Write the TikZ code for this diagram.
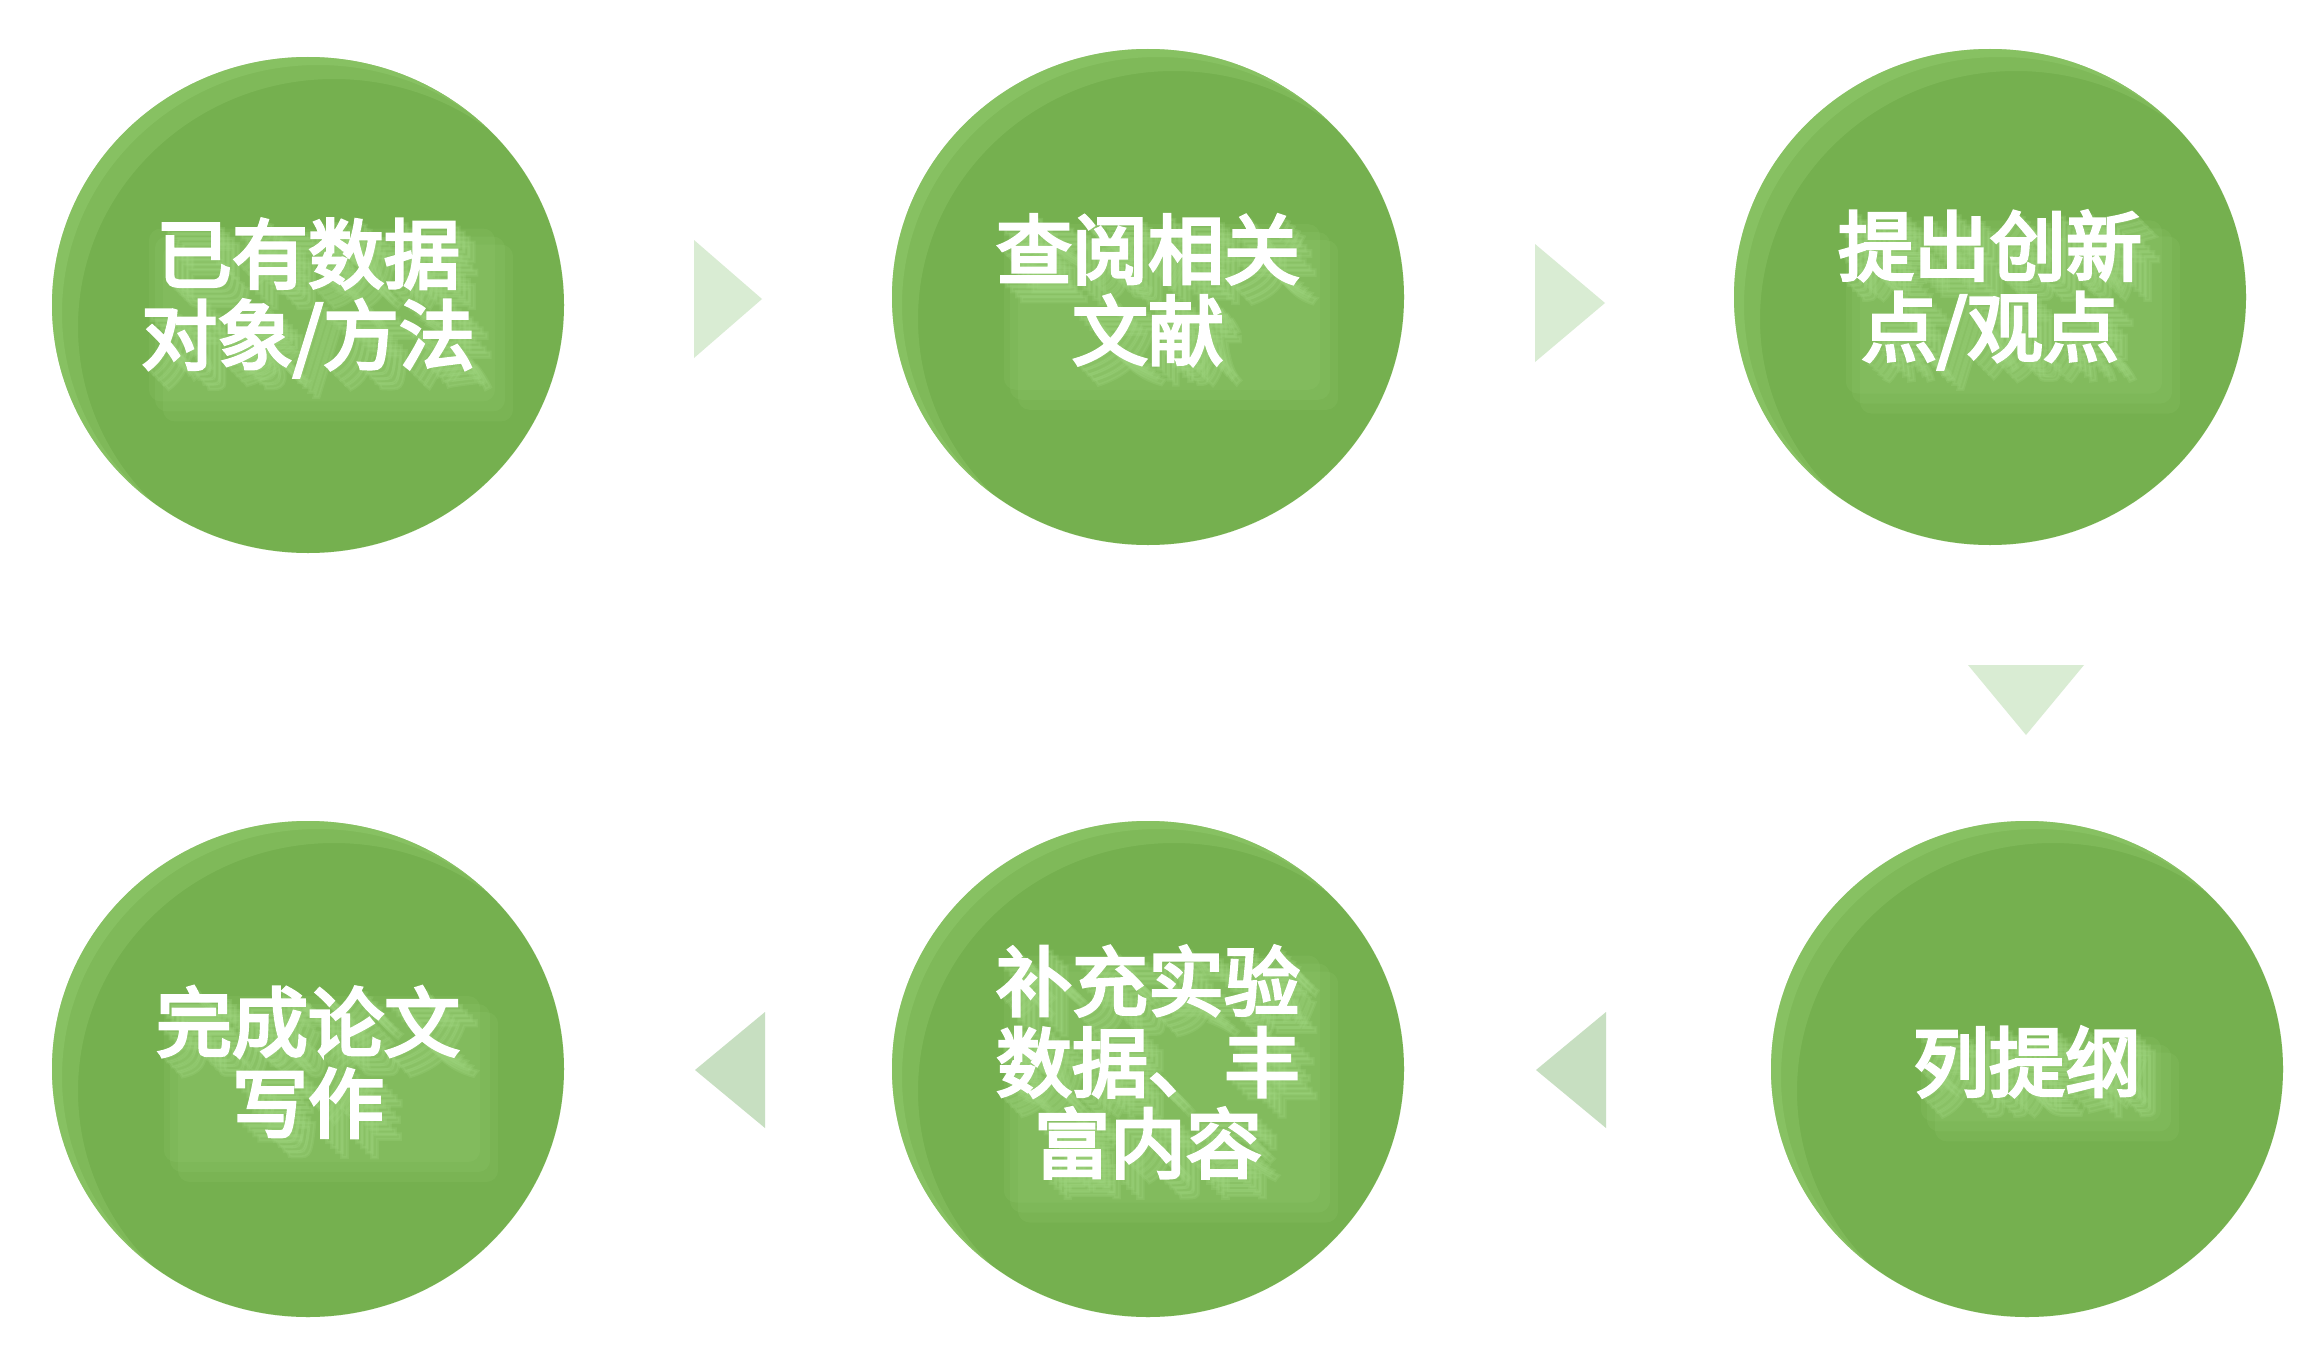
\documentclass[tikz,border=0pt]{standalone}
\usepackage{fontspec}
\newfontfamily\cjk{Noto Sans CJK SC}[FakeBold=4]
\usetikzlibrary{shapes.geometric,calc}
\definecolor{cbase}{HTML}{75B04F}
\definecolor{chl}{HTML}{98D073}
\definecolor{cshadow}{HTML}{A0D680}
\definecolor{tlight}{HTML}{D9ECD3}
\definecolor{tdark}{HTML}{C7DFC1}
\tikzset{
  circ/.style={ellipse, minimum width=512pt, minimum height=496pt, fill=cbase, inner sep=0pt,
    path picture={
      \begin{scope}[shift={(path picture bounding box.center)}]
        \fill[chl, opacity=0.35, even odd rule] (0,0) ellipse [x radius=256, y radius=248]
             (10,8) ellipse [x radius=256, y radius=248];
        \fill[chl, opacity=0.3, even odd rule] (0,0) ellipse [x radius=256, y radius=248]
             (26,22) ellipse [x radius=256, y radius=248];
      \end{scope}}},
  lbl/.style={text=white, align=center, inner sep=0pt,
    font=\cjk\fontsize{76}{81}\selectfont},
  shd/.style={lbl, text=cshadow, text opacity=0.25},
  glow/.style={fill=cshadow, opacity=0.12, rounded corners=12pt},
  tri/.style={fill=#1, draw=none}
}
\newcommand{\steplabel}[3]{%
  \node[lbl, text opacity=0] (#1b) at ($(#2)+(0,-7)$) {#3};
  \fill[glow] ($(#1b.north west)+(22,26)$) rectangle ($(#1b.south east)+(38,44)$);
  \fill[glow] ($(#1b.north west)+(14,18)$) rectangle ($(#1b.south east)+(30,34)$);
  \fill[glow] ($(#1b.north west)+(8,10)$) rectangle ($(#1b.south east)+(20,24)$);
  \foreach \k in {5,10,15,20} {\node[shd] (#1s\k) at ($(#1b)+(\k,\k)$) {#3};}
  \node[lbl] (#1) at (#1b) {#3};}
\begin{document}
\begin{tikzpicture}[x=1pt,y=-1pt]
\useasboundingbox[fill=white] (0,0) rectangle (2316,1362);
\node[circ] (c1) at (308,305) {};
\node[circ] (c2) at (1148,297) {};
\node[circ] (c3) at (1990,297) {};
\node[circ] (c4) at (2027,1069) {};
\node[circ] (c5) at (1148,1069) {};
\node[circ] (c6) at (308,1069) {};
\steplabel{t1}{c1}{已有数据\\对象/方法}
\steplabel{t2}{c2}{查阅相关\\文献}
\steplabel{t3}{c3}{提出创新\\点/观点}
\steplabel{t4}{c4}{列提纲}
\steplabel{t5}{c5}{补充实验\\数据、丰\\富内容}
\steplabel{t6}{c6}{完成论文\\写作}
% arrow triangles between steps
\coordinate (a1) at (728,299);
\coordinate (a2) at (1570,303);
\coordinate (a3) at (2026,700);
\coordinate (a4) at (1571,1070);
\coordinate (a5) at (730,1070);
\fill[tri=tlight] ($(a1)+(-34,-59)$) -- ($(a1)+(34,0)$) -- ($(a1)+(-34,59)$) -- cycle;
\fill[tri=tlight] ($(a2)+(-35,-59)$) -- ($(a2)+(35,0)$) -- ($(a2)+(-35,59)$) -- cycle;
\fill[tri=tlight] ($(a3)+(-58,-35)$) -- ($(a3)+(58,-35)$) -- ($(a3)+(0,35)$) -- cycle;
\fill[tri=tdark] ($(a4)+(35,-58)$) -- ($(a4)+(-35,0)$) -- ($(a4)+(35,58)$) -- cycle;
\fill[tri=tdark] ($(a5)+(35,-58)$) -- ($(a5)+(-35,0)$) -- ($(a5)+(35,58)$) -- cycle;
\end{tikzpicture}
\end{document}
